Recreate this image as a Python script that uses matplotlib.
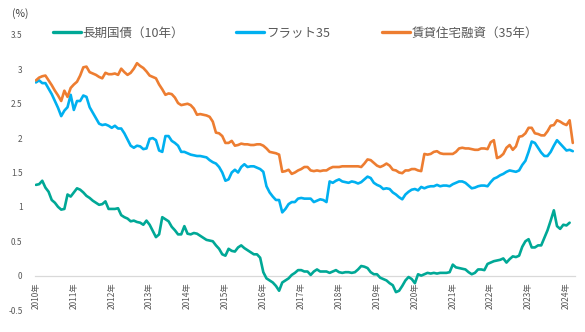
import numpy as np
import matplotlib
matplotlib.use("Agg")
import matplotlib.pyplot as plt

plt.rcParams['font.family'] = ['Noto Sans CJK JP', 'DejaVu Sans']

# Year labels (one category tick per January)
years = [f"{y}年" for y in range(2010, 2025)]

# Monthly rates (%), Jan 2010 onward
jgb10 = [
    1.32, 1.33, 1.38, 1.28, 1.22, 1.10, 1.06, 1.00, 0.96, 0.97, 1.18,
    1.15, 1.21, 1.27, 1.25, 1.21, 1.16, 1.13, 1.09, 1.06, 1.03,
    1.04, 1.08, 0.97, 0.97, 0.97, 0.98, 0.88, 0.85, 0.83, 0.79,
    0.80, 0.78, 0.77, 0.74, 0.80, 0.74, 0.65, 0.56, 0.60, 0.85,
    0.82, 0.79, 0.71, 0.66, 0.60, 0.60, 0.72, 0.61, 0.60, 0.62,
    0.61, 0.58, 0.55, 0.52, 0.51, 0.50, 0.44, 0.39, 0.31, 0.29,
    0.39, 0.36, 0.35, 0.41, 0.44, 0.40, 0.37, 0.34, 0.31, 0.31,
    0.26, 0.05, -0.04, -0.07, -0.10, -0.15, -0.22, -0.10, -0.07, -0.04,
    0.01, 0.04, 0.08, 0.08, 0.06, 0.06, 0.01, 0.06, 0.09, 0.06,
    0.06, 0.06, 0.04, 0.06, 0.08, 0.05, 0.04, 0.05, 0.05, 0.04,
    0.05, 0.09, 0.14, 0.13, 0.11, 0.05, 0.02, 0.02, -0.03, -0.05,
    -0.07, -0.11, -0.14, -0.24, -0.22, -0.15, -0.07, -0.02, -0.05, -0.11,
    0.02, 0.00, 0.02, 0.04, 0.03, 0.04, 0.03, 0.04, 0.04, 0.04,
    0.05, 0.16, 0.12, 0.11, 0.10, 0.09, 0.05, 0.02, 0.04, 0.09,
    0.09, 0.08, 0.17, 0.19, 0.21, 0.22, 0.23, 0.25, 0.19, 0.24,
    0.28, 0.27, 0.29, 0.42, 0.50, 0.53, 0.41, 0.41, 0.44, 0.44,
    0.55, 0.66, 0.80, 0.95, 0.72, 0.68, 0.74, 0.73, 0.77, np.nan,
]

flat35 = [
    2.81, 2.84, 2.80, 2.80, 2.72, 2.64, 2.54, 2.44, 2.32, 2.40, 2.45,
    2.63, 2.41, 2.54, 2.54, 2.62, 2.60, 2.45, 2.37, 2.29, 2.21,
    2.19, 2.20, 2.18, 2.15, 2.18, 2.14, 2.14, 2.07, 1.98, 1.89,
    1.86, 1.89, 1.88, 1.84, 1.85, 1.99, 2.00, 1.97, 1.82, 1.80,
    2.03, 2.03, 1.96, 1.93, 1.89, 1.80, 1.80, 1.78, 1.76, 1.75,
    1.74, 1.74, 1.73, 1.72, 1.68, 1.65, 1.63, 1.58, 1.50, 1.38,
    1.40, 1.50, 1.54, 1.50, 1.58, 1.62, 1.58, 1.59, 1.59, 1.57,
    1.55, 1.51, 1.30, 1.21, 1.15, 1.10, 1.10, 0.92, 0.97, 1.04,
    1.07, 1.07, 1.12, 1.13, 1.12, 1.12, 1.12, 1.07, 1.09, 1.11,
    1.10, 1.07, 1.37, 1.35, 1.38, 1.40, 1.37, 1.36, 1.35, 1.37,
    1.36, 1.34, 1.36, 1.40, 1.44, 1.42, 1.35, 1.32, 1.30, 1.26,
    1.27, 1.26, 1.21, 1.18, 1.14, 1.11, 1.18, 1.22, 1.25, 1.26,
    1.24, 1.29, 1.27, 1.29, 1.30, 1.30, 1.32, 1.30, 1.31, 1.31,
    1.30, 1.33, 1.35, 1.37, 1.37, 1.35, 1.31, 1.27, 1.28, 1.30,
    1.31, 1.31, 1.30, 1.36, 1.41, 1.43, 1.46, 1.48, 1.51, 1.53,
    1.52, 1.51, 1.53, 1.61, 1.67, 1.80, 1.95, 1.93, 1.86, 1.79,
    1.74, 1.74, 1.80, 1.89, 1.97, 1.92, 1.87, 1.82, 1.83, 1.81,
]

rental35 = [
    2.84, 2.88, 2.90, 2.91, 2.84, 2.77, 2.69, 2.62, 2.54, 2.69, 2.60,
    2.73, 2.78, 2.82, 2.91, 3.03, 3.04, 2.96, 2.94, 2.92, 2.89,
    2.87, 2.95, 2.93, 2.93, 2.94, 2.92, 3.01, 2.96, 2.92, 2.95,
    3.01, 3.09, 3.05, 3.02, 2.97, 2.91, 2.89, 2.87, 2.78, 2.71,
    2.63, 2.65, 2.64, 2.59, 2.51, 2.48, 2.49, 2.50, 2.48, 2.43,
    2.34, 2.35, 2.34, 2.33, 2.31, 2.24, 2.08, 2.07, 2.03, 1.93,
    1.93, 1.96, 1.89, 1.90, 1.92, 1.91, 1.91, 1.90, 1.90, 1.91,
    1.91, 1.89, 1.85, 1.80, 1.79, 1.78, 1.76, 1.51, 1.52, 1.54,
    1.48, 1.50, 1.53, 1.55, 1.58, 1.58, 1.53, 1.52, 1.53, 1.52,
    1.53, 1.53, 1.56, 1.58, 1.58, 1.58, 1.59, 1.59, 1.59, 1.59,
    1.59, 1.59, 1.58, 1.63, 1.69, 1.68, 1.64, 1.60, 1.58, 1.60,
    1.63, 1.60, 1.54, 1.53, 1.50, 1.49, 1.53, 1.53, 1.55, 1.55,
    1.53, 1.52, 1.77, 1.76, 1.77, 1.80, 1.81, 1.78, 1.77, 1.77,
    1.77, 1.77, 1.80, 1.85, 1.86, 1.85, 1.85, 1.84, 1.83, 1.83,
    1.85, 1.85, 1.84, 1.94, 1.97, 1.71, 1.73, 1.77, 1.86, 1.90,
    1.83, 1.88, 2.02, 2.03, 2.07, 2.15, 2.15, 2.07, 2.06, 2.04,
    2.04, 2.10, 2.18, 2.19, 2.26, 2.24, 2.21, 2.19, 2.26, 1.93,
]

series_names = ["長期国債（10年）", "フラット35", "賃貸住宅融資（35年）"]
series_colors = ["#00A896", "#00B0F0", "#ED7D31"]

text_color = "#595959"

fig = plt.figure(figsize=(5.85, 3.32), dpi=100)
ax = fig.add_axes([35 / 585, 1 - 310 / 332, 540 / 585, 275 / 332])

months = np.arange(len(flat35))
for vals, name, col in zip([jgb10, flat35, rental35], series_names, series_colors):
    ax.plot(months, np.array(vals, dtype=float), color=col, lw=1.9,
            label=name, solid_joinstyle='round', solid_capstyle='round')

ax.set_xlim(-0.3, 170.7)
ax.set_ylim(-0.5, 3.5)

yt = np.arange(-0.5, 3.51, 0.5)
ax.set_yticks(yt)
ax.set_yticklabels([f"{v:g}" for v in yt])

ax.set_xticks(np.arange(len(years)) * 12)
ax.set_xticklabels(years)

for s in ("top", "right", "left"):
    ax.spines[s].set_visible(False)
ax.spines["bottom"].set_position(("data", 0))
ax.spines["bottom"].set_color("#D9D9D9")
ax.spines["bottom"].set_linewidth(0.9)
ax.spines["bottom"].set_zorder(0.5)
ax.tick_params(axis="both", length=0, labelsize=6, labelcolor=text_color)
ax.tick_params(axis="x", pad=5, labelrotation=90)
ax.tick_params(axis="y", pad=9)

fig.text(12 / 585, 1 - 14 / 332, "(%)", fontsize=7.5, color="#404040",
         ha="left", va="center")

ax.legend(ncol=3, loc="center left", bbox_to_anchor=(53 / 585, 1 - 33 / 332),
          bbox_transform=fig.transFigure, frameon=False, fontsize=9,
          labelcolor=text_color, handlelength=2.2, handletextpad=0.15,
          columnspacing=4.2, borderpad=0, borderaxespad=0)
for h in ax.get_legend().get_lines():
    h.set_linewidth(2.4)

fig.savefig("out.png", dpi=100)
